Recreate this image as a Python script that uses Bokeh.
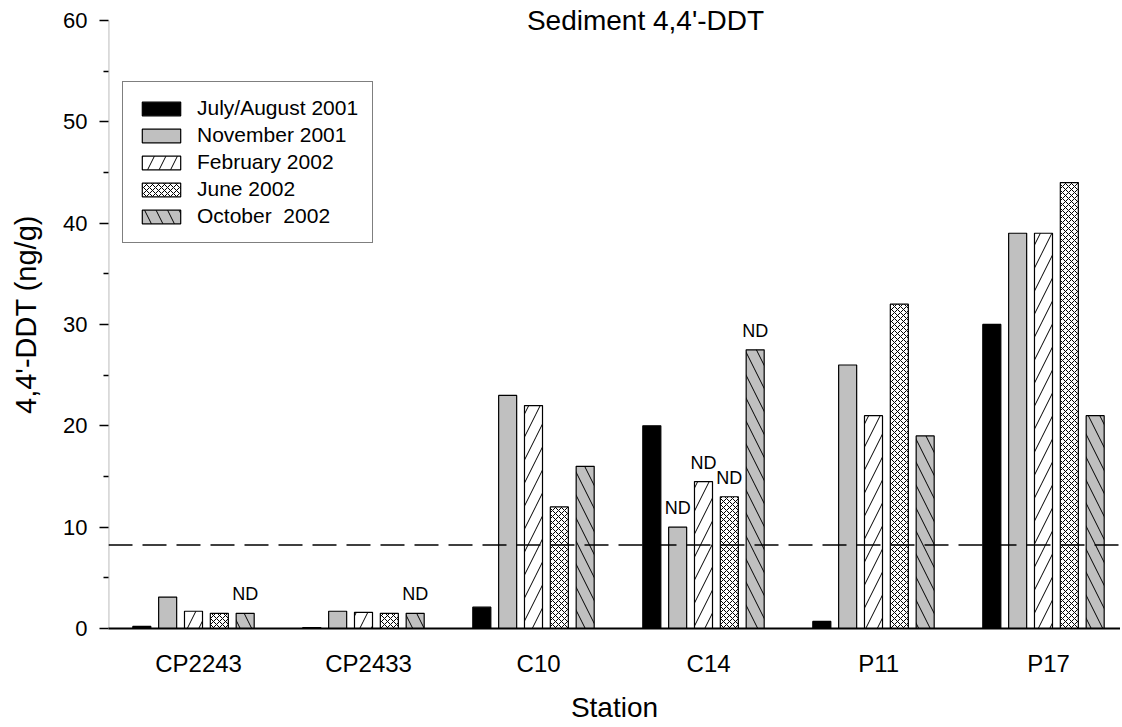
import numpy as np
from bokeh.plotting import figure
from bokeh.models import (ColumnDataSource, FixedTicker, Range1d, Span, Label,
                          Legend, LegendItem, PolyAnnotation)
from bokeh.core.properties import value
from bokeh.embed import file_html
from bokeh.resources import INLINE

# ---------------- data ----------------
stations = ["CP2243", "CP2433", "C10", "C14", "P11", "P17"]
series_names = ["July/August 2001", "November 2001", "February 2002", "June 2002", "October  2002"]

jul_aug_2001 = [0.2, 0.1, 2.1, 20.0, 0.7, 30.0]
nov_2001 = [3.1, 1.7, 23.0, 10.0, 26.0, 39.0]
feb_2002 = [1.7, 1.6, 22.0, 14.5, 21.0, 39.0]
jun_2002 = [1.5, 1.5, 12.0, 13.0, 32.0, 44.0]
oct_2002 = [1.5, 1.5, 16.0, 27.5, 19.0, 21.0]

# ND (not detected) flags per series
nd_jul_aug_2001 = [False, False, False, False, False, False]
nd_nov_2001 = [False, False, False, True, False, False]
nd_feb_2002 = [False, False, False, True, False, False]
nd_jun_2002 = [False, False, False, True, False, False]
nd_oct_2002 = [True, True, False, True, False, False]

guideline_value = 8.25
y_ticks = [0, 10, 20, 30, 40, 50, 60]
y_minor_ticks = [5, 15, 25, 35, 45, 55]
y_top = 60

title_text = "Sediment 4,4'-DDT"
x_label = "Station"
y_label = "4,4'-DDT (ng/g)"

values = [jul_aug_2001, nov_2001, feb_2002, jun_2002, oct_2002]
nd_flags = [nd_jul_aug_2001, nd_nov_2001, nd_feb_2002, nd_jun_2002, nd_oct_2002]

# ---------------- styles ----------------
FONT = "Liberation Sans"
GRAY = "#c0c0c0"
INK = "black"
styles = [
    dict(fill_color="black", hatch_pattern=None),
    dict(fill_color=GRAY, hatch_pattern=None),
    dict(fill_color="white", hatch_pattern="/", hatch_scale=23),
    dict(fill_color="white", hatch_pattern="x", hatch_scale=6),
    dict(fill_color=GRAY, hatch_pattern="\\", hatch_scale=23),
]

STEP = 0.152
BAR_W = 0.106
SHIFT = -0.03

# frame: 0..631 px tall, value 60 placed ~20 px below the frame top
p = figure(width=1120, height=725, output_backend="svg", toolbar_location=None,
           x_range=Range1d(-0.53, 5.423), y_range=Range1d(0, y_top * 631 / 611),
           min_border_left=108, min_border_right=0, min_border_top=0,
           min_border_bottom=94, title=None)
p.outline_line_color = None
p.xgrid.visible = False
p.ygrid.visible = False

group_x = np.arange(len(stations), dtype=float)
renderers = []
for k, (vals, st) in enumerate(zip(values, styles)):
    xs = group_x + SHIFT + (k - 2) * STEP
    src = ColumnDataSource(dict(x=xs, top=vals))
    kw = dict(x="x", top="top", width=BAR_W, bottom=0, source=src,
              fill_color=st["fill_color"], line_color=INK, line_width=1.2)
    if st["hatch_pattern"]:
        kw.update(hatch_pattern=st["hatch_pattern"], hatch_scale=st["hatch_scale"],
                  hatch_color=INK, hatch_weight=1)
    r = p.vbar(**kw)
    renderers.append(r)

# ND labels
nd_x, nd_y = [], []
for k, (vals, flags) in enumerate(zip(values, nd_flags)):
    for i, (v, f) in enumerate(zip(vals, flags)):
        if f:
            nd_x.append(group_x[i] + SHIFT + (k - 2) * STEP)
            nd_y.append(v)
nd_src = ColumnDataSource(dict(x=nd_x, y=nd_y, t=["ND"] * len(nd_x)))
p.text(x="x", y="y", text="t", source=nd_src, text_font=value(FONT),
       text_font_size="18px", text_align="center", text_baseline="middle",
       y_offset=-19, text_color=INK)

# dashed guideline
p.add_layout(Span(location=guideline_value, dimension="width", line_color=INK,
                  line_width=1.5, line_dash="24 10"))

# title
p.add_layout(Label(x=537, x_units="screen", y=y_top, y_units="data", text=title_text,
                   text_font=FONT, text_font_size="28px", text_align="center",
                   text_baseline="middle", text_color=INK))

# y axis line from 0 to 60 only
p.add_layout(PolyAnnotation(xs=[0, 0], ys=[0, y_top], xs_units="screen", ys_units="data",
                            fill_alpha=0, line_color=INK, line_width=1.8))

# group underlines
for i in range(len(stations)):
    p.add_layout(PolyAnnotation(xs=[group_x[i] - 0.35, group_x[i] + 0.35],
                                ys=[-15, -15], xs_units="data", ys_units="screen",
                                fill_alpha=0, line_color=INK, line_width=1.2))

# axes
xa = p.xaxis[0]
xa.ticker = FixedTicker(ticks=list(group_x))
xa.major_label_overrides = {int(i): s for i, s in enumerate(stations)}
xa.major_tick_line_color = None
xa.minor_tick_line_color = None
xa.major_tick_out = 0
xa.major_label_standoff = 21
xa.axis_line_width = 2
xa.axis_line_color = INK
xa.major_label_text_font = FONT
xa.major_label_text_font_size = "24px"
xa.major_label_text_color = INK
xa.axis_label = x_label
xa.axis_label_text_font = FONT
xa.axis_label_text_font_size = "28px"
xa.axis_label_text_font_style = "normal"
xa.axis_label_text_color = INK
xa.axis_label_standoff = 12

ya = p.yaxis[0]
ya.ticker = FixedTicker(ticks=y_ticks, minor_ticks=y_minor_ticks)
ya.axis_line_color = None
ya.major_tick_out = 9
ya.major_tick_in = 0
ya.minor_tick_out = 5
ya.minor_tick_in = 0
ya.major_tick_line_width = 1.3
ya.minor_tick_line_width = 1.3
ya.major_tick_line_color = INK
ya.minor_tick_line_color = INK
ya.major_label_standoff = 12
ya.major_label_text_font = FONT
ya.major_label_text_font_size = "22px"
ya.major_label_text_color = INK
ya.axis_label = y_label
ya.axis_label_text_font = FONT
ya.axis_label_text_font_size = "29px"
ya.axis_label_text_font_style = "normal"
ya.axis_label_text_color = INK
ya.axis_label_standoff = 18

# legend
legend = Legend(items=[LegendItem(label=n, renderers=[r]) for n, r in zip(series_names, renderers)],
                location=(14, 385), border_line_color=INK, border_line_width=1,
                background_fill_color="white", background_fill_alpha=1,
                glyph_width=48, glyph_height=17, label_text_font=FONT,
                label_text_font_size="21px", label_text_color=INK,
                spacing=3, padding=14, margin=0,
                label_standoff=12, label_height=24)
p.add_layout(legend)

open("out.html", "w").write(file_html(p, INLINE))
